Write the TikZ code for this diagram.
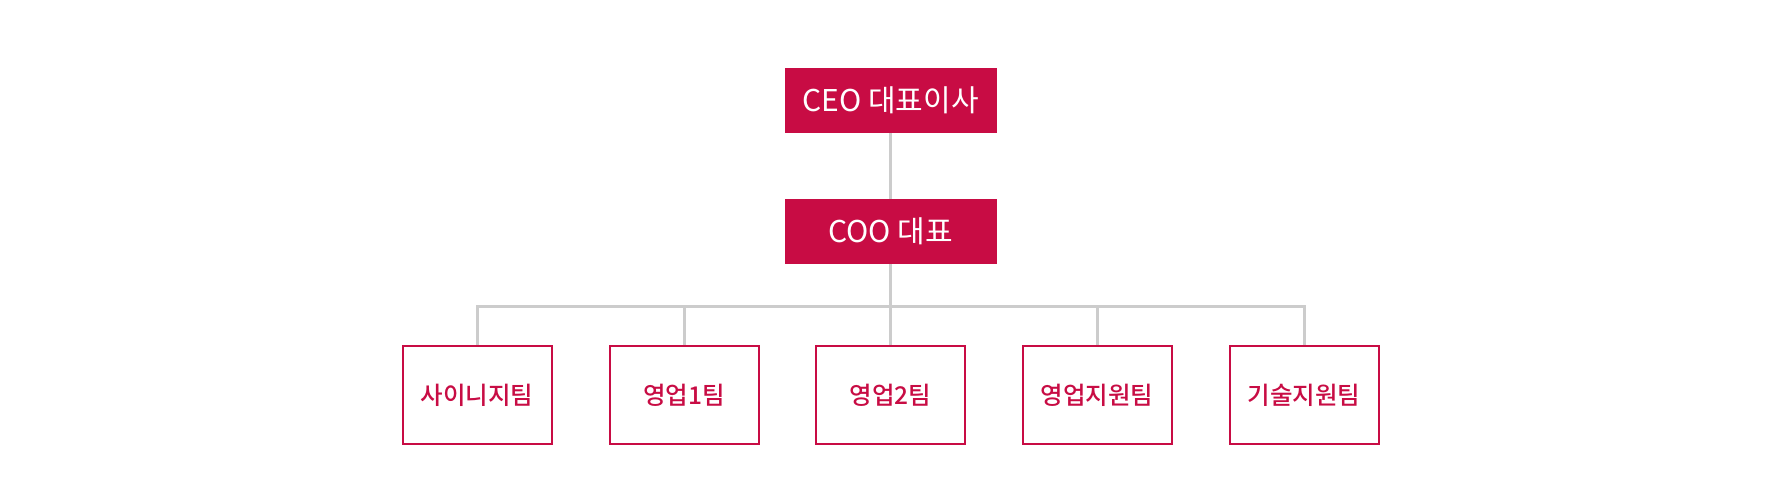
\documentclass[tikz,border=0pt]{standalone}
\usepackage{fontspec}
\setmainfont{Noto Sans CJK KR}
\newfontfamily\medfont{Noto Sans CJK KR}[UprightFont={* Medium}]
\definecolor{crim}{HTML}{C80C44}
\definecolor{lgray}{HTML}{CCCCCC}
\begin{document}
\begin{tikzpicture}[x=1pt,y=-1pt,
  topbox/.style={fill=crim,draw=none,minimum width=212pt,minimum height=65pt,inner sep=0pt,text=white,font=\fontsize{30}{34}\selectfont},
  teambox/.style={fill=white,draw=crim,line width=2pt,minimum width=149pt,minimum height=98pt,inner sep=0pt,text=crim,font=\fontsize{24.5}{28}\medfont},
  conn/.style={draw=lgray,line width=3pt}]
\useasboundingbox (0,0) rectangle (1780,500);
\node[topbox] (ceo) at (890.5,100.5) {CEO 대표이사};
\node[topbox] (coo) at (890.5,231.5) {COO 대표};
\coordinate (hub) at (890.5,306);
\draw[conn] (ceo.south) -- (coo.north);
\draw[conn] (coo.south) -- (hub);
\node[teambox] (t1) at (477,395) {사이니지팀};
\node[teambox] (t2) at (684,395) {영업1팀};
\node[teambox] (t3) at (890.5,395) {영업2팀};
\node[teambox] (t4) at (1097,395) {영업지원팀};
\node[teambox] (t5) at (1304,395) {기술지원팀};
\foreach \t in {t1,t2,t3,t4,t5}{
  \draw[conn] (hub) -| (\t.north);
}
\end{tikzpicture}
\end{document}
